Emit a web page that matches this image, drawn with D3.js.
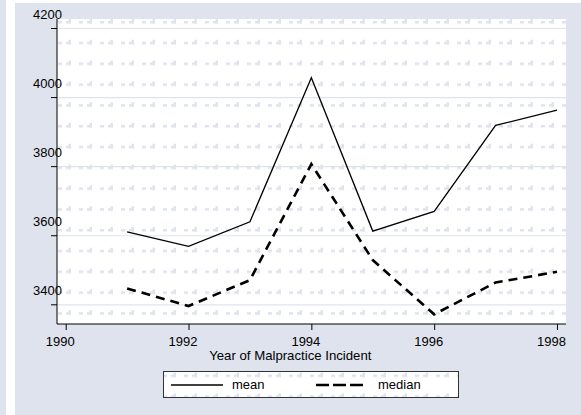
<!DOCTYPE html>
<html><head><meta charset="utf-8">
<script src="https://cdn.jsdelivr.net/npm/d3@7"></script>
<style>body{margin:0;background:#fff;}svg{display:block;font-family:"Liberation Sans",Arial,sans-serif;}</style>
</head><body><svg id="c" width="581" height="415"></svg>
<script>
const years = [1991,1992,1993,1994,1995,1996,1997,1998];
const meanVals = [3610,3568,3639,4056,3612,3669,3918,3962];
const medianVals = [3446,3395,3470,3806,3528,3371,3463,3494];
const xTicks = [1990,1992,1994,1996,1998];
const yTicks = [3400,3600,3800,4000,4200];
const xTitle = "Year of Malpractice Incident";
const legendLabels = ["mean","median"];

const bg = "#dfe3ee";
const svg = d3.select("#c");
const defs = svg.append("defs");
const pat = defs.append("pattern").attr("id","pat").attr("patternUnits","userSpaceOnUse")
  .attr("x",57).attr("y",19).attr("width",21).attr("height",20.8);
pat.append("rect").attr("x",1).attr("y",2).attr("width",4).attr("height",2.5).attr("fill",bg);
pat.append("rect").attr("x",9).attr("y",2).attr("width",5).attr("height",2.5).attr("fill",bg);
pat.append("rect").attr("x",11.5).attr("y",0).attr("width",2.5).attr("height",4.5).attr("fill",bg);

svg.append("rect").attr("x",0).attr("y",0).attr("width",6).attr("height",415).attr("fill",bg);
svg.append("rect").attr("x",15).attr("y",3).attr("width",566).attr("height",412).attr("fill",bg);

const L=57,R=566,T=19,B=324;
const x = d3.scaleLinear().domain([1990,1998]).range([65.7,557]);
const y = d3.scaleLinear().domain([3400,4200]).range([304.3,28]);

svg.append("rect").attr("x",L).attr("y",T).attr("width",R-L).attr("height",B-T).attr("fill","#fff");
svg.append("rect").attr("x",L).attr("y",T).attr("width",R-L).attr("height",B-T).attr("fill","url(#pat)");

// gridlines
svg.append("g").selectAll("line").data(yTicks).join("line")
  .attr("x1",L).attr("x2",R).attr("y1",d=>y(d)+0.5).attr("y2",d=>y(d)+0.5)
  .attr("stroke","#dfe3ee").attr("stroke-width",1.2);

// axes
const yAxis = svg.append("g").attr("transform",`translate(${L},0)`)
  .call(d3.axisLeft(y).tickValues(yTicks).tickSize(6).tickFormat(d3.format("d")));
yAxis.select(".domain").attr("d",`M0,${T}V${B}`).attr("stroke","#000");
yAxis.selectAll(".tick line").attr("stroke","#000");
yAxis.selectAll(".tick text").attr("x",5).attr("dy",0).attr("y",-9.7)
  .attr("font-size",13).attr("fill","#000").attr("font-family","Liberation Sans, Arial, sans-serif");

const xAxis = svg.append("g").attr("transform",`translate(0,${B})`)
  .call(d3.axisBottom(x).tickValues(xTicks).tickSize(6).tickFormat(d3.format("d")));
xAxis.select(".domain").attr("d",`M${L},0H${R}`).attr("stroke","#000");
xAxis.selectAll(".tick line").attr("stroke","#000");
xAxis.selectAll(".tick text").attr("x",-6).attr("dy",0).attr("y",22)
  .attr("font-size",13).attr("fill","#000").attr("font-family","Liberation Sans, Arial, sans-serif");

svg.append("text").attr("x",290.3).attr("y",359.8).attr("text-anchor","middle")
  .attr("font-size",13.2).text(xTitle);

// lines
const line = d3.line().x((d,i)=>x(years[i])).y(d=>y(d));
svg.append("path").datum(meanVals).attr("d",line).attr("fill","none").attr("stroke","#000").attr("stroke-width",1.3);
svg.append("path").datum(medianVals).attr("d",line).attr("fill","none").attr("stroke","#000")
  .attr("stroke-width",2.6).attr("stroke-dasharray","9,6");

// legend
const lg = svg.append("g");
lg.append("rect").attr("x",163.5).attr("y",371.5).attr("width",295).attr("height",26).attr("fill","#fff");
lg.append("rect").attr("x",163.5).attr("y",371.5).attr("width",295).attr("height",26).attr("fill","url(#pat)");
lg.append("rect").attr("x",163.5).attr("y",371.5).attr("width",295).attr("height",26).attr("fill","none").attr("stroke","#333");
lg.append("line").attr("x1",171).attr("x2",223).attr("y1",385).attr("y2",385).attr("stroke","#000").attr("stroke-width",1.3);
lg.append("line").attr("x1",316).attr("x2",364).attr("y1",385).attr("y2",385).attr("stroke","#000").attr("stroke-width",2.6).attr("stroke-dasharray","13,4");
lg.append("text").attr("x",232).attr("y",389).attr("font-size",13).text(legendLabels[0]);
lg.append("text").attr("x",378).attr("y",389).attr("font-size",13).text(legendLabels[1]);
</script></body></html>
